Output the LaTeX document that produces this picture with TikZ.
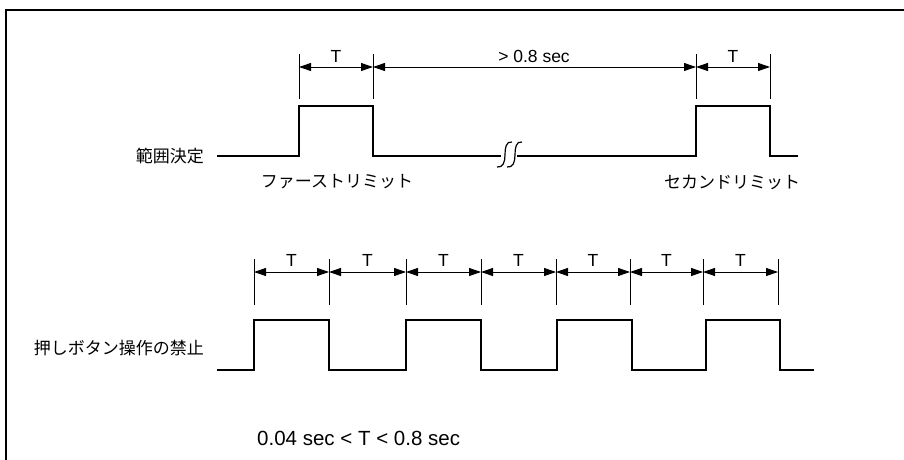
\documentclass[tikz,border=0pt]{standalone}
\usepackage{fontspec}
\setmainfont{Liberation Sans}
\newfontfamily\jpfont{Noto Sans CJK JP}
\usetikzlibrary{arrows.meta}
\begin{document}
\begin{tikzpicture}[x=1pt,y=-1pt,
  wave/.style={line width=1.8pt, line join=miter},
  dimline/.style={line width=0.9pt, {Triangle[length=12pt,width=8pt]}-{Triangle[length=12pt,width=8pt]}},
  tickline/.style={line width=0.9pt},
  lbl/.style={font=\fontsize{17.5}{20}\selectfont, inner sep=0pt, anchor=base},
  jlbl/.style={font=\jpfont\fontsize{17}{20}\selectfont, inner sep=0pt},
  frameline/.style={line width=2pt}]
\useasboundingbox (0,0) rectangle (904,460);
\fill[white] (0,0) rectangle (904,460);
\draw[frameline] (6,461) -- (6,10) -- (905,10);

% ---------- top timing ----------
\foreach \n/\x in {a/299,b/373,c/696,d/770}{
  \coordinate (top\n) at (\x,54);
  \coordinate (bot\n) at (\x,99);
  \coordinate (dim\n) at (\x,67);
  \draw[tickline] (top\n) -- (bot\n);
}
\draw[dimline] (dima) -- (dimb);
\draw[dimline] (dimb) -- (dimc);
\draw[dimline] (dimc) -- (dimd);
\node[lbl] (tA) at (336,63) {T};
\node[lbl] (tGap) at (534,63) {> 0.8 sec};
\node[lbl] (tB) at (733,63) {T};

\draw[wave] (217,156) -- (299,156) -- (299,106) -- (373,106) -- (373,156) -- (501,156);
\draw[wave] (517,156) -- (696,156) -- (696,106) -- (770,106) -- (770,156) -- (798,156);
% break mark
\draw[line width=1.2pt] (512,142) .. controls (506,141) and (505,148) .. (505,155) .. controls (505,162) and (503,168) .. (497,167);
\draw[line width=1.2pt] (522,142) .. controls (516,141) and (515,148) .. (515,155) .. controls (515,162) and (513,168) .. (507,167);

\node[jlbl, anchor=east] (range) at (204,156) {範囲決定};
\node[jlbl] (first) at (337,182) {ファーストリミット};
\node[jlbl] (second) at (732,182) {セカンドリミット};

% ---------- bottom timing ----------
\foreach \i/\x in {1/254,2/329,3/406,4/481,5/556,6/630,7/703,8/778}{
  \coordinate (ttop\i) at (\x,259);
  \coordinate (tbot\i) at (\x,305);
  \coordinate (tdim\i) at (\x,272);
  \draw[tickline] (ttop\i) -- (tbot\i);
}
\foreach \i/\j in {1/2,2/3,3/4,4/5,5/6,6/7,7/8}{
  \draw[dimline] (tdim\i) -- (tdim\j);
  \path (tdim\i) -- (tdim\j) node[midway, yshift=6pt, lbl] (T\i) {T};
}

\draw[wave] (217,370) -- (254,370) -- (254,320) -- (329,320) -- (329,370) -- (406,370) -- (406,320) -- (481,320) -- (481,370) -- (557,370) -- (557,320) -- (632,320) -- (632,370) -- (706,370) -- (706,320) -- (780,320) -- (780,370) -- (814,370);

\node[jlbl, anchor=east] (inhibit) at (204,348) {押しボタン操作の禁止};

\node[font=\fontsize{20.5}{24}\selectfont, inner sep=0pt, anchor=base west] (cond) at (257,445) {0.04 sec < T < 0.8 sec};
\end{tikzpicture}
\end{document}
